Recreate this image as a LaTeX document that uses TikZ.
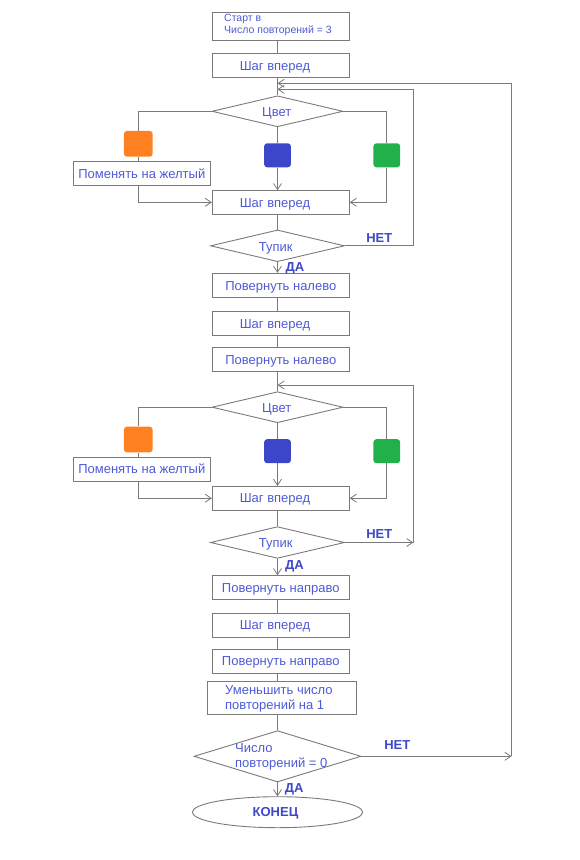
\documentclass[tikz,border=0pt]{standalone}
\usepackage{fontspec}
\setmainfont{Liberation Sans}
\usetikzlibrary{arrows.meta,shapes.geometric}
\definecolor{ln}{HTML}{7A7A7A}
\definecolor{tx}{HTML}{4F5AD6}
\definecolor{lb}{HTML}{3E48C8}
\definecolor{cor}{HTML}{FF8020}
\definecolor{cbl}{HTML}{3C46C8}
\definecolor{cgr}{HTML}{22B04A}
\tikzset{
  box/.style={draw=ln,line width=0.9pt,rectangle,minimum width=137pt,minimum height=24pt,inner sep=0pt,text=tx,font=\fontsize{13}{15}\selectfont,text height=9.4pt,text depth=0pt},
  dia/.style={draw=ln,line width=0.9pt,diamond,inner sep=0pt},
  ttx/.style={text=tx,font=\fontsize{13}{15}\selectfont,inner sep=0pt,text height=9.4pt,text depth=0pt},
  mtx/.style={text=tx,font=\fontsize{13}{15}\selectfont,inner sep=0pt,anchor=west,align=left},
  sq/.style={rounded corners=3pt,inner sep=0pt},
  lbl/.style={text=lb,font=\bfseries\fontsize{13}{15}\selectfont,inner sep=0pt,text height=9.4pt,text depth=0pt},
  con/.style={draw=ln,line width=0.9pt},
  arr/.style={con,-{Straight Barb[length=6pt,width=8pt,line width=0.8pt]}},
}
\begin{document}
\begin{tikzpicture}[x=1pt,y=-1pt]
\useasboundingbox (0,0) rectangle (579,860);
\fill[white] (0,0) rectangle (579,860);
% main axis
\coordinate (cx) at (277.5,0);
% start
\node[box,minimum height=28pt] (start) at (280.8,26.3) {};
\node[text=tx,font=\fontsize{10.5}{12}\selectfont,anchor=west,inner sep=0pt,align=left] (starttxt) at (224,25) {Старт в\\Число повторений = 3};
\node[box] (step1) at (280.8,65.3) {Шаг вперед\kern11.6pt};
% loop 1
\node[dia,minimum width=131pt,minimum height=31pt] (color1) at (277.5,111.3) {};
\node[ttx] (color1t) at (276.7,111.5) {Цвет};
\node[sq,fill=cor,minimum width=28.7pt,minimum height=25.7pt] (or1) at (138.3,143.8) {};
\node[sq,fill=cbl,minimum width=26.7pt,minimum height=24pt] (bl1) at (277.5,155.3) {};
\node[sq,fill=cgr,minimum width=26.7pt,minimum height=24pt] (gr1) at (386.8,155.3) {};
\node[box,minimum height=23.3pt] (ch1) at (141.8,173.3) {Поменять на желтый};
\node[box,minimum height=23.3pt] (step2) at (280.8,202.3) {Шаг вперед\kern11.6pt};
\node[dia,minimum width=134pt,minimum height=31.7pt] (dead1) at (277.5,245.8) {};
\node[ttx] (dead1t) at (275.7,246.3) {Тупик};
\node[box] (left1) at (280.8,285.3) {Повернуть налево};
\node[box] (step3) at (280.8,323.3) {Шаг вперед\kern11.6pt};
\node[box] (left2) at (280.8,359.3) {Повернуть налево};
% loop 2
\node[dia,minimum width=131pt,minimum height=31pt] (color2) at (277.5,407.2) {};
\node[ttx] (color2t) at (276.7,407.5) {Цвет};
\node[sq,fill=cor,minimum width=28.7pt,minimum height=25.7pt] (or2) at (138.3,439.5) {};
\node[sq,fill=cbl,minimum width=26.7pt,minimum height=24pt] (bl2) at (277.5,451.2) {};
\node[sq,fill=cgr,minimum width=26.7pt,minimum height=24pt] (gr2) at (386.8,451.2) {};
\node[box,minimum height=23.7pt] (ch2) at (141.8,469.2) {Поменять на желтый};
\node[box,minimum height=23.7pt] (step4) at (280.8,498.2) {Шаг вперед\kern11.6pt};
\node[dia,minimum width=134pt,minimum height=31.7pt] (dead2) at (277.5,542.5) {};
\node[ttx] (dead2t) at (275.7,542.5) {Тупик};
\node[box,minimum height=23.3pt] (right1) at (280.8,587.3) {Повернуть направо};
\node[box,minimum height=23.7pt] (step5) at (280.8,625.2) {Шаг вперед\kern11.6pt};
\node[box,minimum height=23.7pt] (right2) at (280.8,661.2) {Повернуть направо};
% end part
\node[box,minimum width=148.7pt,minimum height=32.3pt] (dec) at (281.7,697.8) {};
\node[mtx] (dect) at (225,699) {Уменьшить число\\повторений на 1};
\node[dia,minimum width=167pt,minimum height=51.3pt] (cnt) at (277.5,756.3) {};
\node[mtx] (cntt) at (235,756.5) {Число\\повторений = 0};
\node[draw=ln,line width=0.9pt,ellipse,minimum width=170.4pt,minimum height=31pt,inner sep=0pt,text=lb,font=\bfseries\fontsize{13}{15}\selectfont,text height=9.4pt,text depth=0pt] (fin) at (277.5,812.2) {КОНЕЦ\kern4pt};
% labels
\node[lbl] (net1) at (379.3,237.5) {НЕТ};
\node[lbl] (da1) at (295,267) {ДА};
\node[lbl] (net2) at (379.3,533.5) {НЕТ};
\node[lbl] (da2) at (294.5,565) {ДА};
\node[lbl] (net3) at (397.3,745) {НЕТ};
\node[lbl] (da3) at (294.3,787.3) {ДА};
% coordinates
\coordinate (big1) at (511.5,756.3);
\coordinate (big2) at (511.5,83.3);
\coordinate (l1a) at (413.3,245.8);
\coordinate (l1b) at (413.3,89.3);
\coordinate (l2a) at (413.3,542.5);
\coordinate (l2b) at (413.3,385);
\coordinate (xl) at (138.3,0);
\coordinate (xr) at (386.8,0);
% connectors
\draw[con] (start.south -| cx) -- (step1.north -| cx);
\draw[con] (step1.south -| cx) -- (color1.north);
\draw[con] (color1.south) -- (bl1.north);
\draw[arr] (bl1.south) -- (step2.north -| cx);
\draw[con] (color1.west) -- (color1.west -| xl) -- (or1.north);
\draw[con] (or1.south) -- (ch1.north -| xl);
\draw[arr] (ch1.south -| xl) -- (step2.west -| xl) -- (step2.west);
\draw[con] (color1.east) -- (color1.east -| xr) -- (gr1.north);
\draw[arr] (gr1.south) -- (step2.east -| xr) -- (step2.east);
\draw[con] (step2.south -| cx) -- (dead1.north);
\draw[arr] (dead1.south) -- (left1.north -| cx);
\draw[con] (dead1.east) -- (l1a) -- (l1b);
\draw[arr] (l1b) -- (l1b -| cx);
\draw[con] (left1.south -| cx) -- (step3.north -| cx);
\draw[con] (step3.south -| cx) -- (left2.north -| cx);
\draw[con] (left2.south -| cx) -- (color2.north);
\draw[con] (color2.south) -- (bl2.north);
\draw[arr] (bl2.south) -- (step4.north -| cx);
\draw[con] (color2.west) -- (color2.west -| xl) -- (or2.north);
\draw[con] (or2.south) -- (ch2.north -| xl);
\draw[arr] (ch2.south -| xl) -- (step4.west -| xl) -- (step4.west);
\draw[con] (color2.east) -- (color2.east -| xr) -- (gr2.north);
\draw[arr] (gr2.south) -- (step4.east -| xr) -- (step4.east);
\draw[con] (step4.south -| cx) -- (dead2.north);
\draw[arr] (dead2.south) -- (right1.north -| cx);
\draw[arr] (dead2.east) -- (l2a);
\draw[con] (l2a) -- (l2b);
\draw[arr] (l2b) -- (l2b -| cx);
\draw[con] (right1.south -| cx) -- (step5.north -| cx);
\draw[con] (step5.south -| cx) -- (right2.north -| cx);
\draw[con] (right2.south -| cx) -- (dec.north -| cx);
\draw[con] (dec.south -| cx) -- (cnt.north);
\draw[arr] (cnt.south) -- (fin.north);
\draw[arr] (cnt.east) -- (big1);
\draw[con] (big1) -- (big2);
\draw[arr] (big2) -- (big2 -| cx);
\end{tikzpicture}
\end{document}
